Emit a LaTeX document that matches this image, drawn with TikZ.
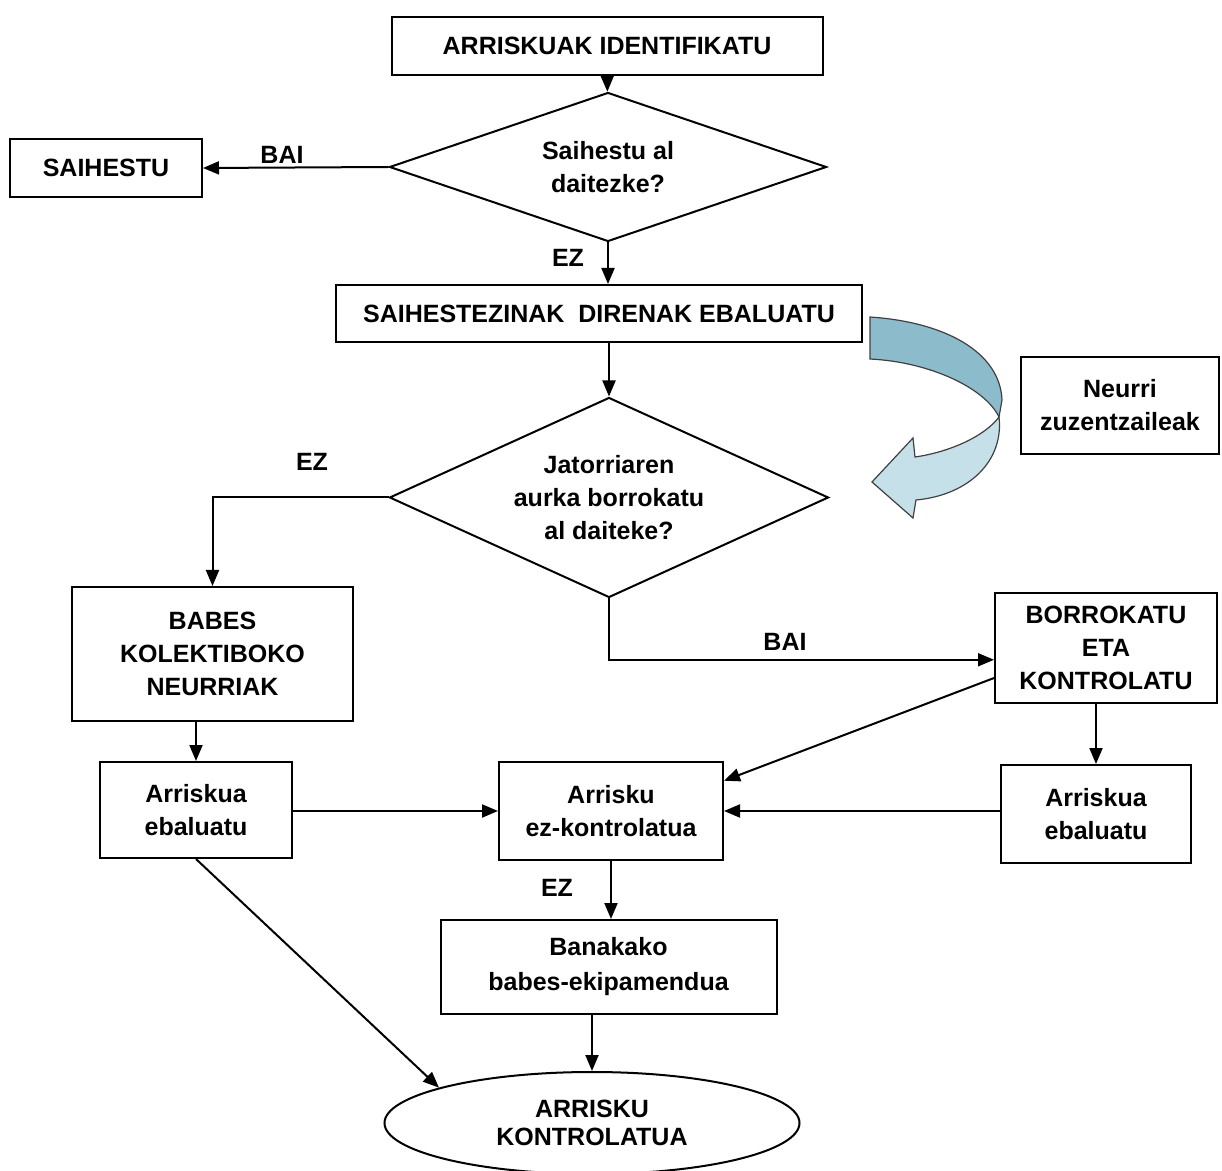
\documentclass[tikz,border=0pt]{standalone}
\usepackage{fontspec}
\setmainfont{Liberation Sans}
\usetikzlibrary{shapes.geometric,arrows.meta}
\definecolor{ribbondark}{RGB}{140,188,204}
\definecolor{ribbonlight}{RGB}{198,224,234}

\begin{document}
\begin{tikzpicture}[x=.5pt,y=-.5pt]


\tikzset{Box/.style = {draw, line width=1pt, align=center, inner sep=0pt,
                       font=\fontsize{12.5}{16.5}\selectfont\bfseries},
         Rhomb/.style = {Box, diamond},
         Label/.style = {font=\fontsize{12.5}{15}\selectfont\bfseries},
         Link/.style = {line width=1pt, -{Triangle[length=8pt,width=6.5pt]}}}

\useasboundingbox (0,0) rectangle (1222,1171);


\node[Box, minimum width=215.5pt, minimum height=29pt] (ident) at (607,46) {ARRISKUAK IDENTIFIKATU};
\node[Rhomb, aspect=2.9, minimum width=218.5pt, minimum height=74.5pt] (q1) at (608,167) {Saihestu al\\daitezke?};
\node[Box, minimum width=96pt, minimum height=29pt] (avoid) at (106,168) {SAIHESTU};
\node[Box, minimum width=263pt, minimum height=28.5pt] (eval) at (599,313.5) {SAIHESTEZINAK\ \ DIRENAK EBALUATU};
\node[Box, minimum width=99pt, minimum height=48.5pt] (neurri) at (1120,405.5) {Neurri\\zuzentzaileak};
\node[Rhomb, aspect=2.2, minimum width=219.5pt, minimum height=100pt] (q2) at (609,497.5) {Jatorriaren\\aurka borrokatu\\al daiteke?};
\node[Box, minimum width=140.5pt, minimum height=67pt] (babes) at (212.5,654) {BABES\\KOLEKTIBOKO\\NEURRIAK};
\node[Box, minimum width=111pt, minimum height=55pt] (borro) at (1106,648) {BORROKATU\\ETA\\KONTROLATU};
\node[Box, minimum width=96pt, minimum height=48pt] (evalL) at (196,810) {Arriskua\\ebaluatu};
\node[Box, minimum width=112pt, minimum height=49pt] (uncont) at (611,811) {Arrisku\\ez-kontrolatua};
\node[Box, minimum width=95pt, minimum height=49pt] (evalR) at (1096,814) {Arriskua\\ebaluatu};
\node[Box, minimum width=168pt, minimum height=47pt, font=\fontsize{12.5}{17.5}\selectfont\bfseries] (banak) at (608.5,967) {Banakako\\babes-ekipamendua};
\node[Box, ellipse, minimum width=207.5pt, minimum height=51pt, font=\fontsize{12.5}{14}\selectfont\bfseries] (kontrol) at (592,1123) {ARRISKU\\KONTROLATUA};


\node[Label] (bai1) at (282,155) {BAI};
\node[Label] (ez1) at (568,258) {EZ};
\node[Label] (ez2) at (312,462) {EZ};
\node[Label] (bai2) at (785,642) {BAI};
\node[Label] (ez3) at (557,888) {EZ};


\draw[Link] (ident) -- (q1);
\draw[Link] (q1.west) -- (avoid.east);
\draw[Link] (q1.south) -- (q1.south |- eval.north);
\draw[Link] (q2.north |- eval.south) -- (q2.north);
\draw[Link] (q2.west) -| (babes.north);
\draw[Link] (q2.south) |- (borro.186);
\draw[Link] (evalL.north |- babes.south) -- (evalL.north);
\draw[Link] (evalR.north |- borro.south) -- (evalR.north);
\draw[Link] (borro.195) -- (uncont.15);
\draw[Link] (evalL.east |- uncont.west) -- (uncont.west);
\draw[Link] (evalR.west |- uncont.east) -- (uncont.east);
\draw[Link] (uncont.south) -- (uncont.south |- banak.north);
\draw[Link] (kontrol.north |- banak.south) -- (kontrol.north);
\draw[Link] (evalL.south) -- (kontrol.167);


\filldraw[fill=ribbondark, draw=black!75, line width=.6pt]
  (870,317) .. controls (945,322) and (1000,352) .. (1002,400)
  -- (999,417) .. controls (985,388) and (930,362) .. (870,359) -- cycle;
\filldraw[fill=ribbonlight, draw=black!75, line width=.6pt]
  (999,417) .. controls (1004,460) and (970,495) .. (916,500)
  -- (913,518) -- (872,482) -- (913,438) -- (915,457)
  .. controls (950,452) and (985,436) .. (999,417) -- cycle;

\end{tikzpicture}
\end{document}
